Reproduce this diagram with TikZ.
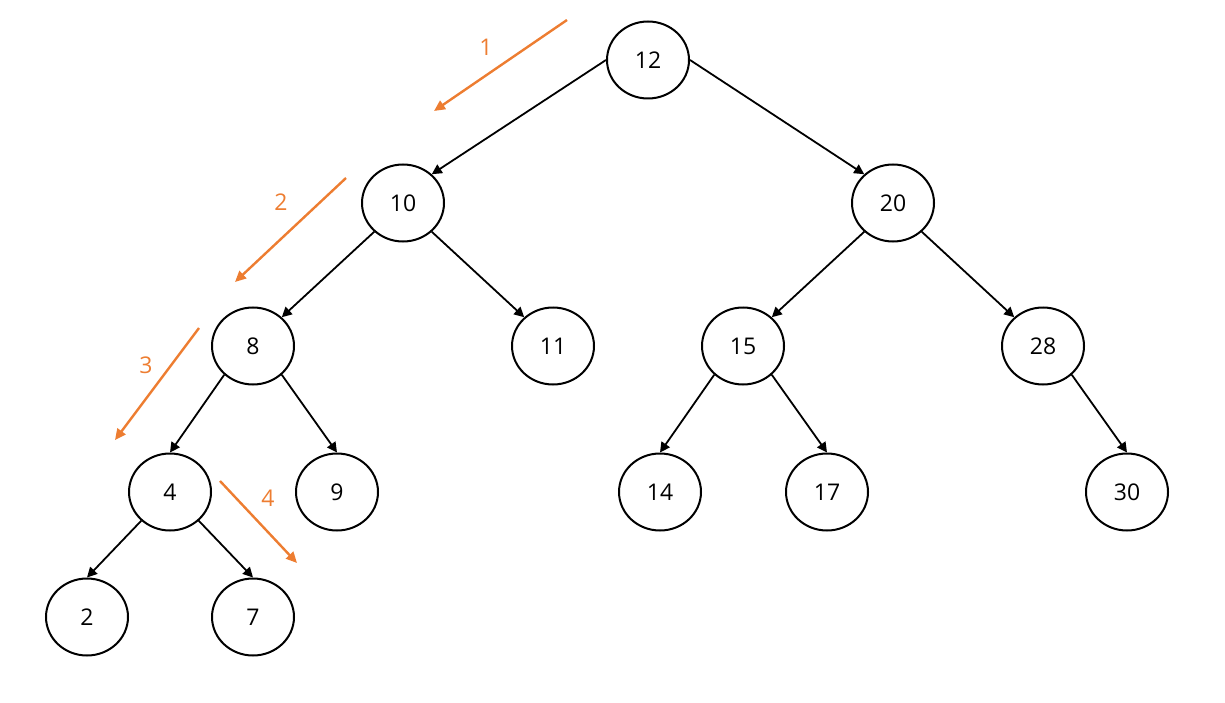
\documentclass[tikz,border=0pt]{standalone}
\usepackage{fontspec}
\setmainfont{Open Sans}
\usetikzlibrary{shapes.geometric,arrows.meta}
\definecolor{orangeA}{HTML}{ED7D31}
\tikzset{
  tnode/.style={ellipse,draw=black,line width=2pt,minimum width=82pt,minimum height=77pt,inner sep=0pt,font=\fontsize{23}{26}\selectfont},
  tedge/.style={line width=1.8pt,-{Triangle[length=10pt,width=10pt]}},
  oarrow/.style={draw=orangeA,line width=2.4pt,-{Triangle[length=11pt,width=10pt]}},
  olabel/.style={text=orangeA,font=\fontsize{23}{26}\selectfont}
}
\begin{document}
\begin{tikzpicture}[x=1pt,y=-1pt]
\useasboundingbox (0,0) rectangle (1225,703);
\node[tnode] (n12) at (648,60) {12};
\node[tnode] (n10) at (403,203) {10};
\node[tnode] (n20) at (893,203) {20};
\node[tnode] (n8) at (253,346) {8};
\node[tnode] (n11) at (553,346) {11};
\node[tnode] (n15) at (743,346) {15};
\node[tnode] (n28) at (1043,346) {28};
\node[tnode] (n4) at (170,492) {4};
\node[tnode] (n9) at (337,492) {9};
\node[tnode] (n14) at (660,492) {14};
\node[tnode] (n17) at (827,492) {17};
\node[tnode] (n30) at (1127,492) {30};
\node[tnode] (n2) at (87,617) {2};
\node[tnode] (n7) at (253,617) {7};
\draw[tedge] (n12.west) -- (n10.45);
\draw[tedge] (n12.east) -- (n20.135);
\draw[tedge] (n10.-135) -- (n8.45);
\draw[tedge] (n10.-45) -- (n11.135);
\draw[tedge] (n20.-135) -- (n15.45);
\draw[tedge] (n20.-45) -- (n28.135);
\draw[tedge] (n8.-135) -- (n4.north);
\draw[tedge] (n8.-45) -- (n9.north);
\draw[tedge] (n15.-135) -- (n14.north);
\draw[tedge] (n15.-45) -- (n17.north);
\draw[tedge] (n28.-45) -- (n30.north);
\draw[tedge] (n4.-135) -- (n2.north);
\draw[tedge] (n4.-45) -- (n7.north);
\coordinate (a1s) at (567,20); \coordinate (a1e) at (434,111);
\coordinate (a2s) at (346,178); \coordinate (a2e) at (235,282);
\coordinate (a3s) at (199,328); \coordinate (a3e) at (115,440);
\coordinate (a4s) at (220,481); \coordinate (a4e) at (297,563);
\draw[oarrow] (a1s) -- (a1e);
\draw[oarrow] (a2s) -- (a2e);
\draw[oarrow] (a3s) -- (a3e);
\draw[oarrow] (a4s) -- (a4e);
\node[olabel] (l1) at (486,47) {1};
\node[olabel] (l2) at (281,202) {2};
\node[olabel] (l3) at (146,365) {3};
\node[olabel] (l4) at (268,498) {4};
\end{tikzpicture}
\end{document}
